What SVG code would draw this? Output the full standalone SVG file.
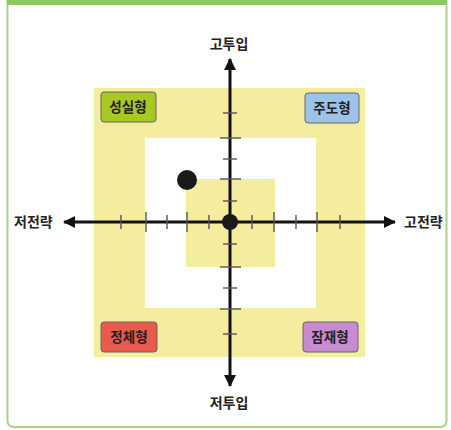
<svg xmlns="http://www.w3.org/2000/svg" width="451" height="430" viewBox="0 0 451 430">
<defs>
<style>
.lbl{font-family:"Noto Sans CJK KR","Noto Sans",sans-serif;font-weight:bold;font-size:14px;fill:#222;}
.qt{font-family:"Noto Sans CJK KR","Noto Sans",sans-serif;font-weight:bold;font-size:13.5px;fill:#222;text-anchor:middle;}
.ax{stroke:#111;stroke-width:3;fill:none;}
.tk{stroke:#555;stroke-width:1.4;}
.yl{fill:#f4ec9e;}
.box{stroke:#666;stroke-width:1;}
</style>
<marker id="ah" viewBox="0 0 12 12" refX="11" refY="6" markerWidth="12" markerHeight="12" markerUnits="userSpaceOnUse" orient="auto">
<path d="M0,0 L12,6 L0,12 Z" fill="#111"/>
</marker>
</defs>
<rect x="0" y="0" width="451" height="430" fill="#fff"/>
<rect x="7.5" y="-10" width="439" height="437" rx="6" fill="#fff" stroke="#a9d18e" stroke-width="2"/>
<rect x="7" y="0" width="440" height="5" fill="#8cc665"/>
<g id="bands">
<path class="yl" fill-rule="evenodd" d="M94,88 H365 V357 H94 Z M145,138 V308 H316 V138 Z"/>
<rect class="yl" x="186" y="179" width="89" height="88"/>
</g>
<g id="connectors">
<line class="ax" x1="230" y1="222" x2="230" y2="59" marker-end="url(#ah)"/>
<line class="ax" x1="230" y1="222" x2="230" y2="386" marker-end="url(#ah)"/>
<line class="ax" x1="230" y1="222" x2="64" y2="222" marker-end="url(#ah)"/>
<line class="ax" x1="230" y1="222" x2="395" y2="222" marker-end="url(#ah)"/>
<g id="ticks">
<line class="tk" x1="121" y1="215" x2="121" y2="229"/>
<line class="tk" x1="146" y1="212" x2="146" y2="232"/>
<line class="tk" x1="167" y1="215" x2="167" y2="229"/>
<line class="tk" x1="187" y1="212" x2="187" y2="232"/>
<line class="tk" x1="209" y1="215" x2="209" y2="229"/>
<line class="tk" x1="252" y1="215" x2="252" y2="229"/>
<line class="tk" x1="274" y1="212" x2="274" y2="232"/>
<line class="tk" x1="296" y1="215" x2="296" y2="229"/>
<line class="tk" x1="317" y1="212" x2="317" y2="232"/>
<line class="tk" x1="340" y1="215" x2="340" y2="229"/>
<line class="tk" x1="223" y1="113" x2="237" y2="113"/>
<line class="tk" x1="220" y1="138" x2="241" y2="138"/>
<line class="tk" x1="223" y1="159" x2="237" y2="159"/>
<line class="tk" x1="220" y1="179" x2="241" y2="179"/>
<line class="tk" x1="223" y1="201" x2="237" y2="201"/>
<line class="tk" x1="223" y1="244" x2="237" y2="244"/>
<line class="tk" x1="220" y1="267" x2="241" y2="267"/>
<line class="tk" x1="223" y1="288" x2="237" y2="288"/>
<line class="tk" x1="220" y1="309" x2="241" y2="309"/>
<line class="tk" x1="223" y1="334" x2="237" y2="334"/>
</g>
</g>
<g id="center-dot"><circle cx="230" cy="222" r="8" fill="#1a1a1a"/></g>
<g id="dot"><circle cx="187" cy="180" r="10" fill="#1a1a1a"/></g>
<g id="label-top"><text class="lbl" x="229" y="49" text-anchor="middle">고투입</text></g>
<g id="label-bottom"><text class="lbl" x="229" y="408" text-anchor="middle">저투입</text></g>
<g id="label-left"><text class="lbl" x="14" y="227">저전략</text></g>
<g id="label-right"><text class="lbl" x="404" y="227">고전략</text></g>
<g id="q-tl"><rect class="box" x="101" y="92" width="55" height="30" rx="3" fill="#a8c823"/><text class="qt" x="128" y="112">성실형</text></g>
<g id="q-tr"><rect class="box" x="305" y="93" width="54" height="30" rx="3" fill="#9cc2e8"/><text class="qt" x="332" y="113">주도형</text></g>
<g id="q-bl"><rect class="box" x="101" y="322" width="56" height="30" rx="3" fill="#ea5a4c"/><text class="qt" x="129" y="342">정체형</text></g>
<g id="q-br"><rect class="box" x="303" y="322" width="55" height="30" rx="3" fill="#c98bd0"/><text class="qt" x="330" y="342">잠재형</text></g>
</svg>
